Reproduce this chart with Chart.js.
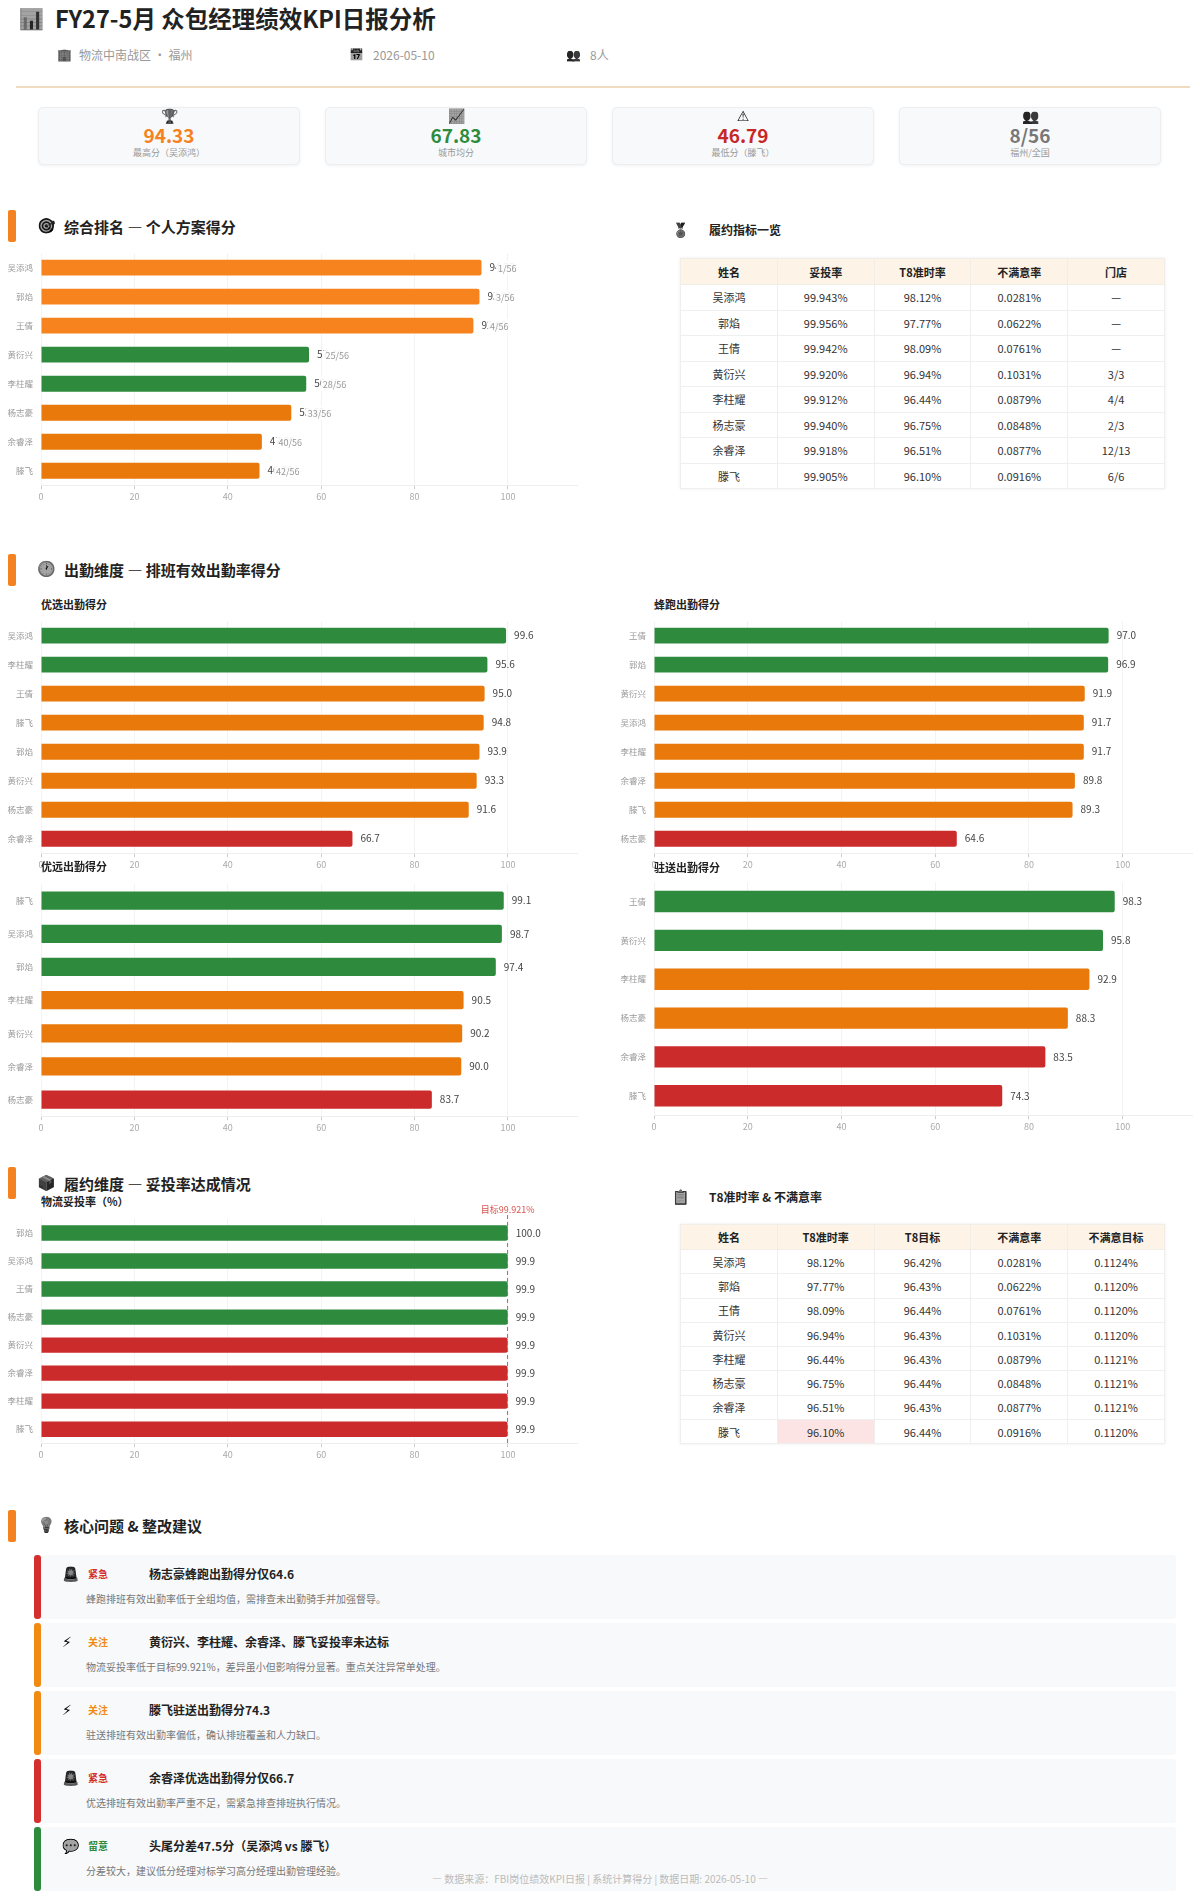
<!DOCTYPE html>
<html lang="zh-CN">
<head>
<meta charset="utf-8">
<title>FY27-5月 众包经理绩效KPI日报分析</title>
<script src="https://cdn.jsdelivr.net/npm/chart.js@4.4.1/dist/chart.umd.min.js"></script>
<style>
  body { margin: 0; background: #fff; font-family: "Noto Sans CJK SC", "Noto Sans", sans-serif; color: #222; }
  #page { position: relative; width: 1200px; height: 1903px; overflow: hidden; }
  .abs { position: absolute; line-height: 1; white-space: nowrap; }
  .ico { font-family: "DejaVu Sans", "Noto Sans CJK SC", sans-serif; filter: grayscale(1) brightness(0.6) contrast(1.4); }
  .title { font-size: 23.5px; font-weight: 700; color: #222; }
  .meta { font-size: 12px; color: #999; }
  .divider { position: absolute; left: 16px; top: 86px; width: 1174px; height: 2px; background: #efdcc0; }
  .kpi { position: absolute; top: 107px; width: 262px; height: 58px; background: #f8f9fa; border: 1px solid #eceef0;
         border-radius: 5px; box-shadow: 0 1px 3px rgba(0,0,0,0.06); box-sizing: border-box; text-align: center; }
  .kpi .i { position: absolute; left: 0; right: 0; top: 0px; font-size: 14px; line-height: 14px; color: #222; }
  .kpi .v { position: absolute; left: 0; right: 0; top: 17px; font-size: 19px; font-weight: 700; line-height: 19px; }
  .kpi .l { position: absolute; left: 0; right: 0; top: 40px; font-size: 9px; color: #999; line-height: 9px; }
  .mark { position: absolute; left: 8px; width: 8px; height: 32px; background: #f58220; border-radius: 2px; }
  .sec { font-size: 15px; font-weight: 700; color: #222; }
  .sub { font-size: 11px; font-weight: 700; color: #222; }
  .box { position: absolute; }
  table.t { position: absolute; left: 680px; width: 485px; border-collapse: collapse; font-size: 11px; color: #333;
            box-shadow: 0 0 3px rgba(0,0,0,0.08); table-layout: fixed; }
  table.t th { background: #fdf3e6; font-weight: 700; color: #222; border: 1px solid #f1ede7; padding: 0; text-align: center; }
  table.t td { border: 1px solid #efefef; padding: 0; text-align: center; }
  table.t td.bad { background: #fde4e4; }
  .issue { position: absolute; left: 34px; width: 1142px; height: 64px; background: #f8f9fa; border-radius: 3px; }
  .issue .bar { position: absolute; left: 0; top: 0; width: 7px; height: 64px; border-radius: 3px; }
  .issue .ic { position: absolute; left: 28px; top: 12px; font-size: 14px; line-height: 14px; color: #222; }
  .issue .tag { position: absolute; left: 54px; top: 14px; font-size: 10px; font-weight: 700; line-height: 10px; }
  .issue .hd { position: absolute; left: 115px; top: 13px; font-size: 12px; font-weight: 700; line-height: 12px; color: #222; }
  .issue .ds { position: absolute; left: 52px; top: 39px; font-size: 10px; line-height: 10px; color: #777; }
  .foot { position: absolute; left: 0; width: 1200px; top: 1874px; text-align: center; font-size: 10px; color: #bbb; line-height: 10px; }
</style>
</head>
<body>
<div id="page">
  <div class="abs ico" style="left:19px;top:9px;font-size:20px;">📊</div>
  <div class="abs title" style="left:55px;top:7px;">FY27-5月 众包经理绩效KPI日报分析</div>
  <div class="abs meta ico" style="left:57px;top:49px;">🏢</div>
  <div class="abs meta" style="left:79px;top:49px;">物流中南战区 · 福州</div>
  <div class="abs meta ico" style="left:349px;top:49px;">📅</div>
  <div class="abs meta" style="left:373px;top:49px;">2026-05-10</div>
  <div class="abs meta ico" style="left:566px;top:49px;">👥</div>
  <div class="abs meta" style="left:590px;top:49px;">8人</div>
  <div class="divider"></div>

  <div id="kpis"></div>

  <!-- section 1 -->
  <div class="mark" style="top:210px;"></div>
  <div class="abs ico" style="left:37px;top:219px;font-size:15px;">🎯</div>
  <div class="abs sec" style="left:64px;top:219px;">综合排名 — 个人方案得分</div>
  <div class="box" style="left:0px;top:248px;width:578px;height:256px;"><canvas id="cRank"></canvas></div>

  <div class="abs ico" style="left:672px;top:223px;font-size:14px;">🏅</div>
  <div class="abs" style="left:709px;top:224px;font-size:12px;font-weight:700;">履约指标一览</div>
  <table class="t" id="tbl1" style="top:258px;"></table>

  <!-- section 2 -->
  <div class="mark" style="top:554px;"></div>
  <div class="abs ico" style="left:37px;top:562px;font-size:15px;">🕐</div>
  <div class="abs sec" style="left:64px;top:562px;">出勤维度 — 排班有效出勤率得分</div>
  <div class="box" style="left:0px;top:616px;width:578px;height:256px;"><canvas id="cYx"></canvas></div>
  <div class="box" style="left:613px;top:616px;width:580px;height:256px;"><canvas id="cFp"></canvas></div>
  <div class="box" style="left:0px;top:879px;width:578px;height:256px;"><canvas id="cYy"></canvas></div>
  <div class="box" style="left:613px;top:877px;width:580px;height:257px;"><canvas id="cZs"></canvas></div>
  <div class="abs sub" style="left:41px;top:599px;">优选出勤得分</div>
  <div class="abs sub" style="left:654px;top:599px;">蜂跑出勤得分</div>
  <div class="abs sub" style="left:41px;top:861px;">优远出勤得分</div>
  <div class="abs sub" style="left:654px;top:862px;">驻送出勤得分</div>

  <!-- section 3 -->
  <div class="mark" style="top:1167px;"></div>
  <div class="abs ico" style="left:37px;top:1176px;font-size:15px;">📦</div>
  <div class="abs sec" style="left:64px;top:1176px;">履约维度 — 妥投率达成情况</div>
  <div class="abs sub" style="left:41px;top:1196px;">物流妥投率（%）</div>
  <div class="box" style="left:0px;top:1199px;width:578px;height:263px;"><canvas id="cTt"></canvas></div>

  <div class="abs ico" style="left:672px;top:1190px;font-size:14px;">📋</div>
  <div class="abs" style="left:709px;top:1191px;font-size:12px;font-weight:700;">T8准时率 &amp; 不满意率</div>
  <table class="t" id="tbl2" style="top:1224px;"></table>

  <!-- section 4 -->
  <div class="mark" style="top:1510px;"></div>
  <div class="abs ico" style="left:37px;top:1518px;font-size:15px;">💡</div>
  <div class="abs sec" style="left:64px;top:1518px;">核心问题 &amp; 整改建议</div>
  <div id="issues"></div>

  <div class="foot">— 数据来源：FBI岗位绩效KPI日报 | 系统计算得分 | 数据日期: 2026-05-10 —</div>
</div>

<script>
// ---- data ----
const kpiIcons = ["🏆", "📈", "⚠", "👥"];
const kpiValues = ["94.33", "67.83", "46.79", "8/56"];
const kpiLabels = ["最高分（吴添鸿）", "城市均分", "最低分（滕飞）", "福州/全国"];

const rankNames = ["吴添鸿", "郭焰", "王倩", "黄衍兴", "李柱耀", "杨志豪", "余睿泽", "滕飞"];
const rankScores = [94.33, 93.9, 92.6, 57.4, 56.8, 53.6, 47.3, 46.79];
const rankPlaces = ["1/56", "3/56", "4/56", "25/56", "28/56", "33/56", "40/56", "42/56"];

const yxNames = ["吴添鸿", "李柱耀", "王倩", "滕飞", "郭焰", "黄衍兴", "杨志豪", "余睿泽"];
const yxScores = [99.6, 95.6, 95.0, 94.8, 93.9, 93.3, 91.6, 66.7];

const fpNames = ["王倩", "郭焰", "黄衍兴", "吴添鸿", "李柱耀", "余睿泽", "滕飞", "杨志豪"];
const fpScores = [97.0, 96.9, 91.9, 91.7, 91.7, 89.8, 89.3, 64.6];

const yyNames = ["滕飞", "吴添鸿", "郭焰", "李柱耀", "黄衍兴", "余睿泽", "杨志豪"];
const yyScores = [99.1, 98.7, 97.4, 90.5, 90.2, 90.0, 83.7];

const zsNames = ["王倩", "黄衍兴", "李柱耀", "杨志豪", "余睿泽", "滕飞"];
const zsScores = [98.3, 95.8, 92.9, 88.3, 83.5, 74.3];

const ttNames = ["郭焰", "吴添鸿", "王倩", "杨志豪", "黄衍兴", "余睿泽", "李柱耀", "滕飞"];
const ttRates = [99.956, 99.943, 99.942, 99.940, 99.920, 99.918, 99.912, 99.905];
const ttTarget = 99.921;

const xTicks = [0, 20, 40, 60, 80, 100];

const t1Names = ["吴添鸿", "郭焰", "王倩", "黄衍兴", "李柱耀", "杨志豪", "余睿泽", "滕飞"];
const t1Delivery = ["99.943%", "99.956%", "99.942%", "99.920%", "99.912%", "99.940%", "99.918%", "99.905%"];
const t1T8 = ["98.12%", "97.77%", "98.09%", "96.94%", "96.44%", "96.75%", "96.51%", "96.10%"];
const t1Unsat = ["0.0281%", "0.0622%", "0.0761%", "0.1031%", "0.0879%", "0.0848%", "0.0877%", "0.0916%"];
const t1Stores = ["—", "—", "—", "3/3", "4/4", "2/3", "12/13", "6/6"];

const t2T8Target = ["96.42%", "96.43%", "96.44%", "96.43%", "96.43%", "96.44%", "96.43%", "96.44%"];
const t2UnsatTarget = ["0.1124%", "0.1120%", "0.1120%", "0.1120%", "0.1121%", "0.1121%", "0.1121%", "0.1120%"];

const issueLevels = ["urgent", "watch", "watch", "urgent", "note"];
const issueTitles = ["杨志豪蜂跑出勤得分仅64.6", "黄衍兴、李柱耀、余睿泽、滕飞妥投率未达标", "滕飞驻送出勤得分74.3",
  "余睿泽优选出勤得分仅66.7", "头尾分差47.5分（吴添鸿 vs 滕飞）"];
const issueTexts = ["蜂跑排班有效出勤率低于全组均值，需排查未出勤骑手并加强督导。",
  "物流妥投率低于目标99.921%，差异虽小但影响得分显著。重点关注异常单处理。",
  "驻送排班有效出勤率偏低，确认排班覆盖和人力缺口。",
  "优选排班有效出勤率严重不足，需紧急排查排班执行情况。",
  "分差较大，建议低分经理对标学习高分经理出勤管理经验。"];

// ---- colours ----
const GREEN = "#2e8b3e", ORANGE = "#e8790a", LIGHT_ORANGE = "#f7831f", RED = "#cc2b2b";
const kpiColors = ["#f5821f", GREEN, "#c62828", "#777"];
const rankColors = [LIGHT_ORANGE, LIGHT_ORANGE, LIGHT_ORANGE, GREEN, GREEN, ORANGE, ORANGE, ORANGE];
const levelInfo = {
  urgent: { tag: "紧急", color: "#d32f2f", icon: "🚨" },
  watch: { tag: "关注", color: "#f08a12", icon: "⚡" },
  note: { tag: "留意", color: "#2e8b3e", icon: "💬" },
};
function scoreColor(v) { return v >= 95.5 ? GREEN : (v >= 85 ? ORANGE : RED); }

// ---- KPI cards ----
const kpiLeft = [38, 325, 612, 899];
document.getElementById("kpis").innerHTML = kpiValues.map((v, i) =>
  `<div class="kpi" style="left:${kpiLeft[i]}px"><div class="i ico" style="top:1px">${kpiIcons[i]}</div>` +
  `<div class="v" style="color:${kpiColors[i]}">${v}</div><div class="l">${kpiLabels[i]}</div></div>`).join("");

// ---- tables ----
function buildTable(id, heads, rows, rowH, headH, badCell) {
  let html = "<tr>" + heads.map(h => `<th style="height:${headH}px">${h}</th>`).join("") + "</tr>";
  rows.forEach((r, ri) => {
    html += "<tr>" + r.map((c, ci) => `<td style="height:${rowH}px"${badCell(ri, ci) ? ' class="bad"' : ""}>${c}</td>`).join("") + "</tr>";
  });
  document.getElementById(id).innerHTML = html;
}
buildTable("tbl1", ["姓名", "妥投率", "T8准时率", "不满意率", "门店"],
  t1Names.map((n, i) => [n, t1Delivery[i], t1T8[i], t1Unsat[i], t1Stores[i]]), 24.5, 25, () => false);
buildTable("tbl2", ["姓名", "T8准时率", "T8目标", "不满意率", "不满意目标"],
  t1Names.map((n, i) => [n, t1T8[i], t2T8Target[i], t1Unsat[i], t2UnsatTarget[i]]), 23.3, 24,
  (ri, ci) => ci === 1 && parseFloat(t1T8[ri]) < parseFloat(t2T8Target[ri]));

// ---- issues ----
document.getElementById("issues").innerHTML = issueLevels.map((lv, i) => {
  const info = levelInfo[lv];
  return `<div class="issue" style="top:${1555 + i * 68}px"><div class="bar" style="background:${info.color}"></div>` +
    `<div class="ic ico">${info.icon}</div><div class="tag" style="color:${info.color}">${info.tag}</div>` +
    `<div class="hd">${issueTitles[i]}</div><div class="ds">${issueTexts[i]}</div></div>`;
}).join("");

// ---- charts ----
Chart.defaults.font.family = '"Noto Sans CJK SC", "Noto Sans", sans-serif';
Chart.defaults.animation = false;

const valueLabels = {
  id: "valueLabels",
  afterDatasetsDraw(chart, args, opts) {
    const ctx = chart.ctx;
    const ds = chart.data.datasets[0];
    const meta = chart.getDatasetMeta(0);
    ctx.save();
    ctx.textBaseline = "middle";
    meta.data.forEach((bar, i) => {
      const v = ds.data[i];
      const x = bar.x + 8;
      ctx.font = '10px "Noto Sans CJK SC", sans-serif';
      ctx.fillStyle = "#444";
      const txt = opts.digits != null ? v.toFixed(opts.digits) : String(v);
      ctx.fillText(txt, x, bar.y);
      if (opts.places) {
        // rank tag laid over the score, as in the report
        const first = ctx.measureText(txt.charAt(0)).width;
        ctx.font = '9px "Noto Sans CJK SC", sans-serif';
        const p = opts.places[i];
        const w = ctx.measureText(p).width;
        ctx.fillStyle = "rgba(255,255,255,0.92)";
        ctx.fillRect(x + first + 1, bar.y - 7, w + 4, 14);
        ctx.fillStyle = "#999";
        ctx.fillText(p, x + first + 3, bar.y + 1);
      }
    });
    ctx.restore();
  }
};

const targetLine = {
  id: "targetLine",
  afterDatasetsDraw(chart, args, opts) {
    if (opts.value == null) return;
    const ctx = chart.ctx;
    const x = chart.scales.x.getPixelForValue(opts.value);
    const a = chart.chartArea;
    ctx.save();
    ctx.strokeStyle = "#d9534f";
    ctx.lineWidth = 1;
    ctx.setLineDash([4, 3]);
    ctx.beginPath();
    ctx.moveTo(x, a.top - 4);
    ctx.lineTo(x, a.bottom);
    ctx.stroke();
    ctx.setLineDash([]);
    ctx.fillStyle = "#d9534f";
    ctx.font = '9px "Noto Sans CJK SC", sans-serif';
    ctx.textAlign = "center";
    ctx.textBaseline = "bottom";
    ctx.fillText(opts.label, x, a.top - 5);
    ctx.restore();
  }
};

function makeBar(id, names, values, colors, extra) {
  extra = extra || {};
  return new Chart(document.getElementById(id), {
    type: "bar",
    data: {
      labels: names,
      datasets: [{
        data: values,
        backgroundColor: colors,
        borderRadius: 2,
        categoryPercentage: 1,
        barPercentage: 0.55,
      }],
    },
    plugins: [valueLabels, targetLine],
    options: {
      indexAxis: "y",
      responsive: true,
      maintainAspectRatio: false,
      layout: { padding: { top: extra.padTop || 0 } },
      plugins: {
        legend: { display: false },
        tooltip: { enabled: false },
        valueLabels: { digits: extra.digits, places: extra.places },
        targetLine: { value: extra.target, label: extra.targetLabel },
      },
      scales: {
        x: {
          min: 0,
          max: 115,
          afterBuildTicks: (s) => { s.ticks = xTicks.map(v => ({ value: v })); },
          ticks: { color: "#aaa", font: { size: 9 }, padding: 2 },
          grid: { color: "#f3f3f3", tickColor: "#ccc", tickLength: 4 },
          border: { color: "#eee" },
        },
        y: {
          afterFit: (s) => { s.width = 41; },
          ticks: { color: "#999", font: { size: 8.5 }, padding: 0 },
          grid: { display: false },
          border: { display: false },
        },
      },
    },
  });
}

makeBar("cRank", rankNames, rankScores, rankColors, { digits: 2, places: rankPlaces });
makeBar("cYx", yxNames, yxScores, yxScores.map(scoreColor), { digits: 1 });
makeBar("cFp", fpNames, fpScores, fpScores.map(scoreColor), { digits: 1 });
makeBar("cYy", yyNames, yyScores, yyScores.map(scoreColor), { digits: 1 });
makeBar("cZs", zsNames, zsScores, zsScores.map(scoreColor), { digits: 1 });
makeBar("cTt", ttNames, ttRates, ttRates.map(v => v >= ttTarget ? GREEN : RED),
  { digits: 1, padTop: 20, target: ttTarget, targetLabel: "目标" + ttTarget + "%" });
</script>
</body>
</html>
